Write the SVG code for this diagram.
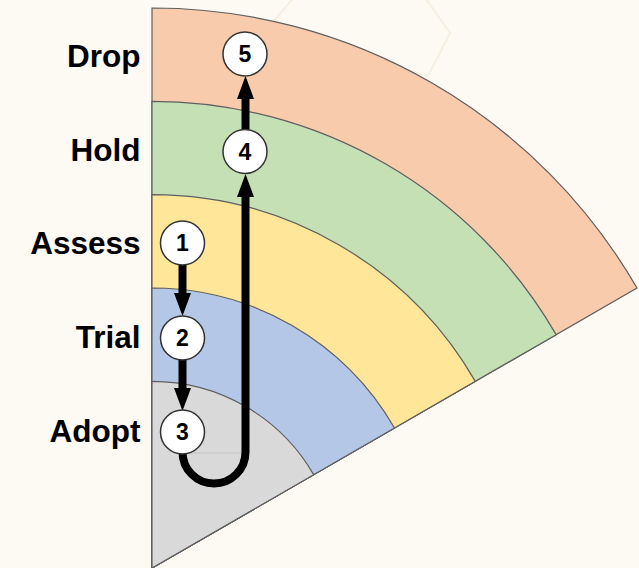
<svg xmlns="http://www.w3.org/2000/svg" width="639" height="568" viewBox="0 0 639 568">
<defs>
<style>
.band{stroke:#5f5f5f;stroke-width:1.2}
.lbl{font-family:"Liberation Sans",Arial,sans-serif;font-weight:bold;font-size:31.5px;fill:#000;text-anchor:end}
.node circle{fill:#fff;stroke:#333;stroke-width:1.5}
.node text{font-family:"Liberation Sans",Arial,sans-serif;font-weight:bold;font-size:23px;fill:#000;text-anchor:middle}
.conn{fill:none;stroke:#000;stroke-width:8}
.head{fill:#000}
</style>
</defs>
<rect width="639" height="568" fill="#fdf9f3"/>
<polygon points="268,28 295,-4 424,-4 450,33 428,76" fill="none" stroke="#f5f0e2" stroke-width="2"/>
<g id="bands">
<path id="band-drop" class="band" fill="#f8cbad" d="M152,568 L152,8 A560,560 0 0 1 636.97,288 Z"/>
<path id="band-hold" class="band" fill="#c5e0b4" d="M152,568 L152,101.33 A466.67,466.67 0 0 1 556.15,334.67 Z"/>
<path id="band-assess" class="band" fill="#ffe699" d="M152,568 L152,194.67 A373.33,373.33 0 0 1 475.32,381.33 Z"/>
<path id="band-trial" class="band" fill="#b4c7e7" d="M152,568 L152,288 A280,280 0 0 1 394.49,428 Z"/>
<path id="band-adopt" class="band" fill="#d9d9d9" d="M152,568 L152,381.33 A186.67,186.67 0 0 1 313.66,474.67 Z"/>
<line x1="190" y1="453" x2="244" y2="453" stroke="#c4c4c4" stroke-width="1"/>
</g>
<g id="labels">
<text class="lbl" x="140.5" y="67">Drop</text>
<text class="lbl" x="140.5" y="161">Hold</text>
<text class="lbl" x="140.5" y="254">Assess</text>
<text class="lbl" x="140.5" y="348">Trial</text>
<text class="lbl" x="140.5" y="442">Adopt</text>
</g>
<g id="connectors">
<path class="conn" d="M182.5,264 L182.5,296"/>
<polygon class="head" points="174,293 191,293 182.5,316"/>
<path class="conn" d="M182.5,359 L182.5,391"/>
<polygon class="head" points="174,388 191,388 182.5,411"/>
<path class="conn" d="M182.5,452 A31.5,31.5 0 0 0 245.5,452 L245.5,196"/>
<polygon class="head" points="237,197 254,197 245.5,174"/>
<path class="conn" d="M245.5,130 L245.5,97"/>
<polygon class="head" points="237,99 254,99 245.5,76"/>
</g>
<g id="node-1" class="node"><circle cx="182.5" cy="243" r="22"/><text x="182.5" y="251">1</text></g>
<g id="node-2" class="node"><circle cx="182.5" cy="338" r="22"/><text x="182.5" y="346">2</text></g>
<g id="node-3" class="node"><circle cx="182.5" cy="432" r="22"/><text x="182.5" y="440">3</text></g>
<g id="node-4" class="node"><circle cx="245" cy="151.5" r="22"/><text x="245" y="159.5">4</text></g>
<g id="node-5" class="node"><circle cx="245" cy="54" r="22"/><text x="245" y="62">5</text></g>
</svg>
